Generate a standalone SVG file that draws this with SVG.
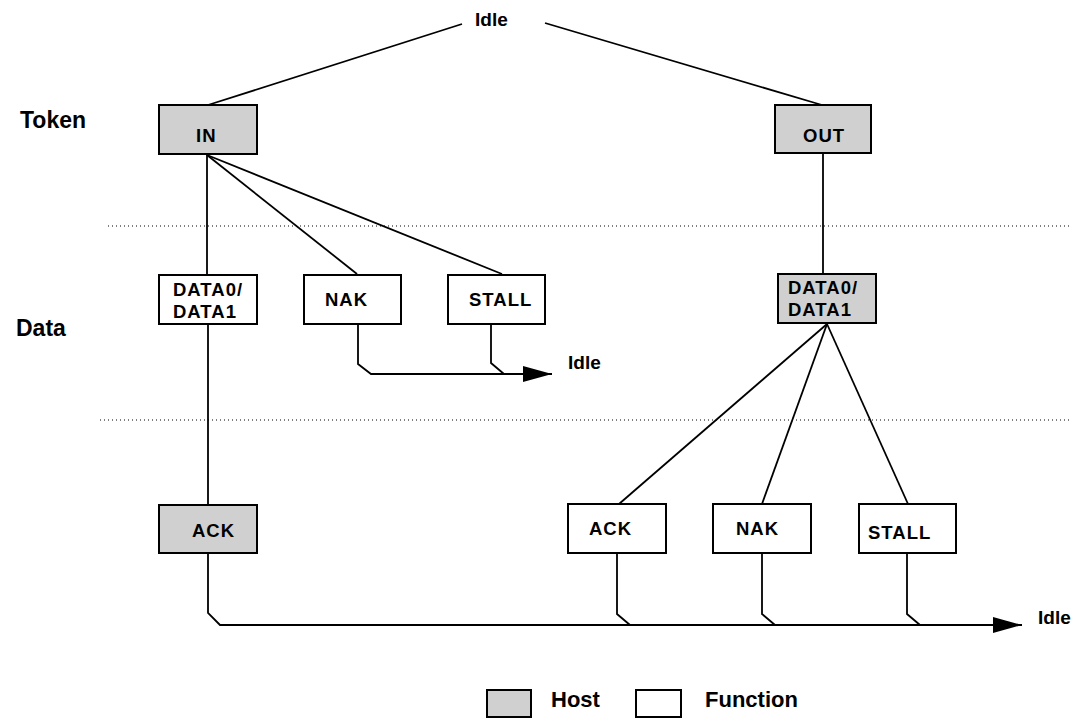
<svg xmlns="http://www.w3.org/2000/svg" width="1087" height="723" viewBox="0 0 1087 723">
<style>
.host{fill:#d0d0d0;stroke:#000;stroke-width:2}
.func{fill:#fff;stroke:#000;stroke-width:2}
.bt{font-family:"Liberation Sans",Arial,sans-serif;font-weight:bold;font-size:18.5px;letter-spacing:1px;fill:#000}
.lbl{font-family:"Liberation Sans",Arial,sans-serif;font-weight:bold;font-size:22px;fill:#000}
.lbl2{font-family:"Liberation Sans",Arial,sans-serif;font-weight:bold;font-size:23px;fill:#000}
.idle{font-family:"Liberation Sans",Arial,sans-serif;font-weight:bold;font-size:19px;fill:#000}
.ln{stroke:#000;stroke-width:1.8;fill:none}
.dot{stroke:#000;stroke-width:1;stroke-dasharray:1 3;fill:none}
</style>
<defs>
<marker id="arr" markerWidth="30" markerHeight="16" refX="29" refY="8" orient="auto" markerUnits="userSpaceOnUse">
<path d="M0,0 L29,8 L0,16 Z" fill="#000"/>
</marker>
</defs>
<rect width="1087" height="723" fill="#fff"/>
<text class="lbl2" x="20" y="128">Token</text>
<text class="lbl2" x="16" y="336">Data</text>
<line class="dot" x1="108" y1="226" x2="1072" y2="226"/>
<line class="dot" x1="100" y1="420" x2="1072" y2="420"/>
<g id="connectors">
<line class="ln" x1="462" y1="24" x2="208" y2="105"/>
<line class="ln" x1="545" y1="23" x2="822" y2="105"/>
<line class="ln" x1="207" y1="155" x2="207" y2="274"/>
<line class="ln" x1="207" y1="155" x2="357" y2="274"/>
<line class="ln" x1="207" y1="155" x2="502" y2="274"/>
<line class="ln" x1="823" y1="153" x2="823" y2="275"/>
<line class="ln" x1="208" y1="324" x2="208" y2="505"/>
<line class="ln" x1="827" y1="324" x2="619" y2="504"/>
<line class="ln" x1="827" y1="324" x2="762" y2="504"/>
<line class="ln" x1="827" y1="324" x2="908" y2="504"/>
<path class="ln" d="M358,323 L358,364 L371,374 L552,374" marker-end="url(#arr)"/>
<path class="ln" d="M491,323 L491,363 L504,374"/>
<path class="ln" d="M208,553 L208,613 L220,625 L1022,625" marker-end="url(#arr)"/>
<path class="ln" d="M617,553 L617,614 L630,625"/>
<path class="ln" d="M762,553 L762,614 L775,625"/>
<path class="ln" d="M907,553 L907,614 L920,625"/>
</g>
<text class="idle" x="475" y="26">Idle</text>
<text class="idle" x="568" y="369">Idle</text>
<text class="idle" x="1038" y="624">Idle</text>
<g id="in"><rect class="host" x="159" y="105" width="98" height="49"/><text class="bt" x="196" y="142">IN</text></g>
<g id="out"><rect class="host" x="775" y="105" width="96" height="48"/><text class="bt" x="803" y="142">OUT</text></g>
<g id="data-in"><rect class="func" x="159" y="275" width="98" height="49"/><text class="bt" x="173" y="296">DATA0/</text><text class="bt" x="173" y="318">DATA1</text></g>
<g id="nak-in"><rect class="func" x="304" y="275" width="97" height="49"/><text class="bt" x="325" y="306">NAK</text></g>
<g id="stall-in"><rect class="func" x="448" y="275" width="97" height="49"/><text class="bt" x="469" y="306">STALL</text></g>
<g id="data-out"><rect class="host" x="778" y="274" width="98" height="49"/><text class="bt" x="788" y="294">DATA0/</text><text class="bt" x="788" y="316">DATA1</text></g>
<g id="ack-in"><rect class="host" x="159" y="505" width="98" height="48"/><text class="bt" x="192" y="537">ACK</text></g>
<g id="ack-out"><rect class="func" x="568" y="504" width="98" height="49"/><text class="bt" x="589" y="535">ACK</text></g>
<g id="nak-out"><rect class="func" x="713" y="504" width="98" height="49"/><text class="bt" x="736" y="535">NAK</text></g>
<g id="stall-out"><rect class="func" x="859" y="504" width="97" height="49"/><text class="bt" x="868" y="539">STALL</text></g>
<g id="legend">
<rect class="host" x="487" y="690" width="44" height="27"/>
<text class="lbl" x="551" y="707">Host</text>
<rect class="func" x="636" y="690" width="45" height="27"/>
<text class="lbl" x="705" y="707">Function</text>
</g>
</svg>
